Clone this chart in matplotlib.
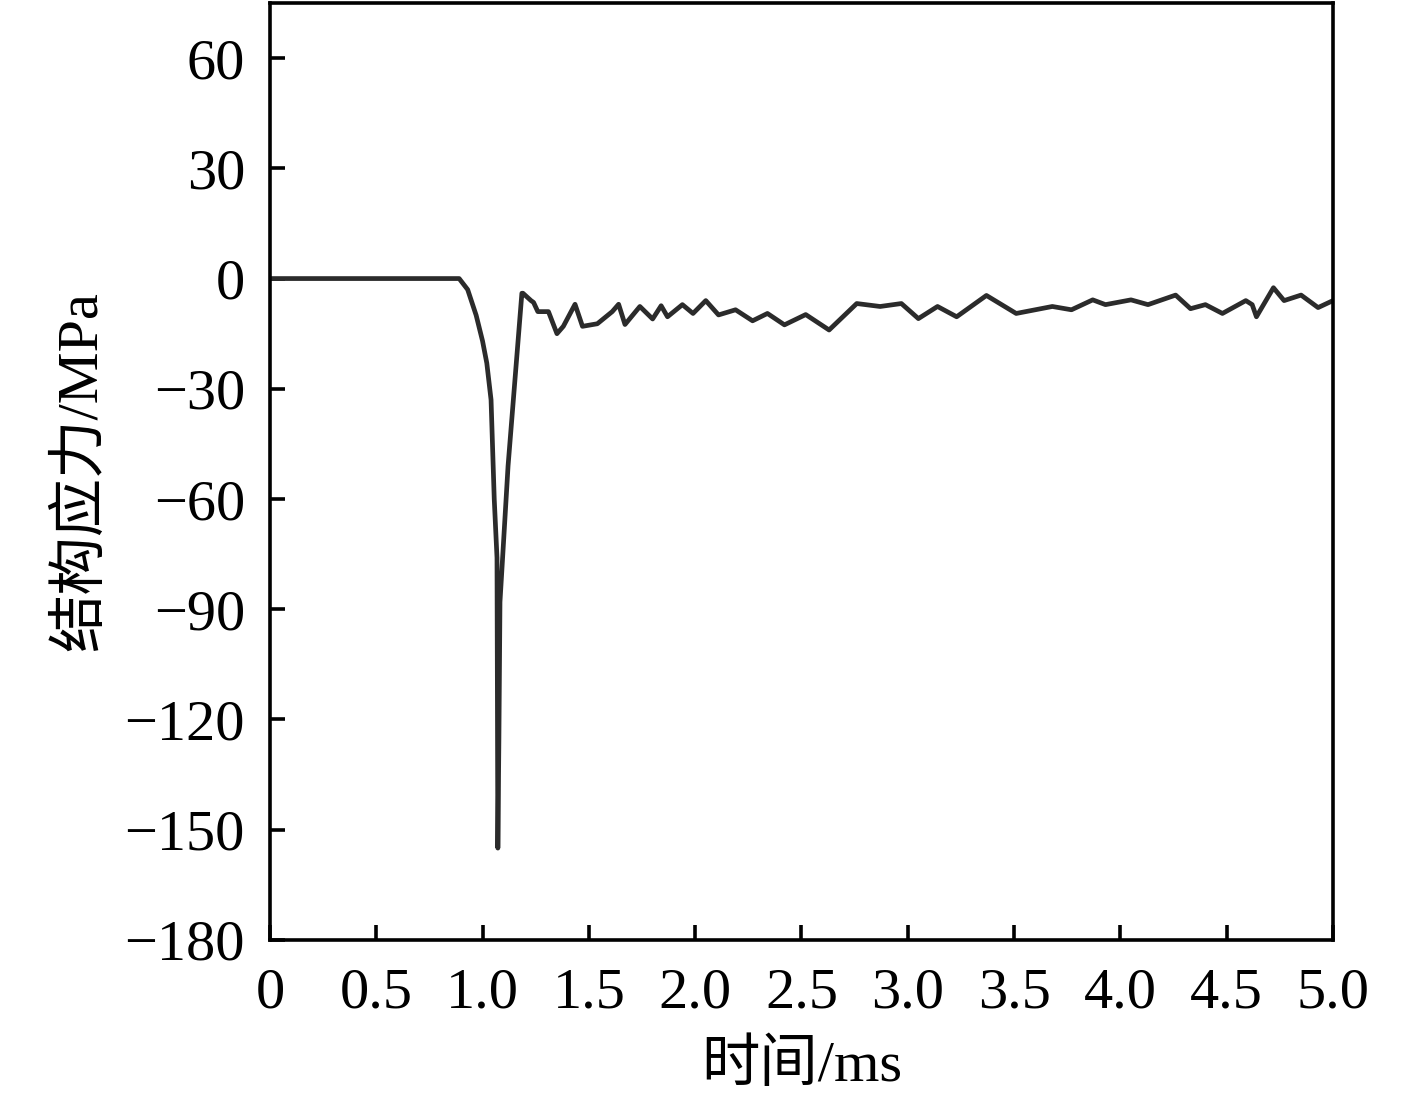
import matplotlib
matplotlib.use("Agg")
import matplotlib.pyplot as plt

# time (ms) and structural stress (MPa)
time_ms = [0.0, 0.89, 0.93, 0.97, 1.00, 1.02, 1.04, 1.055, 1.068, 1.072, 1.077, 1.082,
           1.12, 1.185, 1.19, 1.228, 1.24, 1.26, 1.31, 1.35, 1.38, 1.435, 1.47,
           1.54, 1.61, 1.64, 1.67, 1.74, 1.80, 1.84, 1.87, 1.94, 1.99, 2.05,
           2.11, 2.19, 2.27, 2.34, 2.42, 2.52, 2.63, 2.76, 2.87, 2.97, 3.05,
           3.14, 3.23, 3.37, 3.51, 3.68, 3.77, 3.87, 3.93, 4.05, 4.13, 4.26,
           4.33, 4.40, 4.48, 4.59, 4.62, 4.64, 4.72, 4.77, 4.85, 4.93, 5.0]
stress_mpa = [0.0, 0.0, -3.0, -10.0, -17.0, -23.0, -33.0, -60.0, -76.0, -155.0, -125.0, -88.0,
              -51.0, -4.0, -4.0, -6.0, -6.5, -9.0, -9.0, -15.0, -13.0, -7.0, -13.0,
              -12.3, -9.0, -7.0, -12.5, -7.6, -11.0, -7.4, -10.4, -7.1, -9.5, -6.0,
              -9.9, -8.5, -11.5, -9.5, -12.6, -9.8, -14.0, -6.8, -7.6, -6.8, -10.9,
              -7.6, -10.4, -4.6, -9.5, -7.6, -8.5, -5.8, -7.1, -5.8, -7.1, -4.5,
              -8.2, -7.1, -9.5, -6.0, -7.1, -10.4, -2.5, -6.0, -4.5, -7.9, -6.0]

x_ticks = [0, 0.5, 1.0, 1.5, 2.0, 2.5, 3.0, 3.5, 4.0, 4.5, 5.0]
x_ticklabels = ["0", "0.5", "1.0", "1.5", "2.0", "2.5", "3.0", "3.5", "4.0", "4.5", "5.0"]
y_ticks = [-180, -150, -120, -90, -60, -30, 0, 30, 60]
y_ticklabels = ["\u2212180", "\u2212150", "\u2212120", "\u221290", "\u221260", "\u221230", "0", "30", "60"]

fonts = ["Liberation Serif", "Noto Sans CJK SC", "DejaVu Sans"]
plt.rcParams["font.family"] = fonts

fig = plt.figure(figsize=(14.17, 11.0), dpi=100)
ax = fig.add_axes([0.1905, 0.1455, 0.7502, 0.8518])
ax.plot(time_ms, stress_mpa, color="#2b2b2b", linewidth=3.4,
        solid_joinstyle="round", solid_capstyle="round")

ax.set_xlim(0, 5.0)
ax.set_ylim(-180, 75)
ax.set_xticks(x_ticks)
ax.set_xticklabels(x_ticklabels)
ax.set_yticks(y_ticks)
ax.set_yticklabels(y_ticklabels)

for s in ax.spines.values():
    s.set_linewidth(2.6)
    s.set_color("black")
ax.tick_params(axis="both", direction="in", length=11, width=2.6, labelsize=42)
ax.tick_params(axis="x", pad=20)
ax.tick_params(axis="y", pad=18)

ax.set_xlabel("时间/ms", fontsize=42, labelpad=14)
ax.set_ylabel("结构应力/MPa", fontsize=42, labelpad=12)

fig.savefig("out.png", dpi=100)
